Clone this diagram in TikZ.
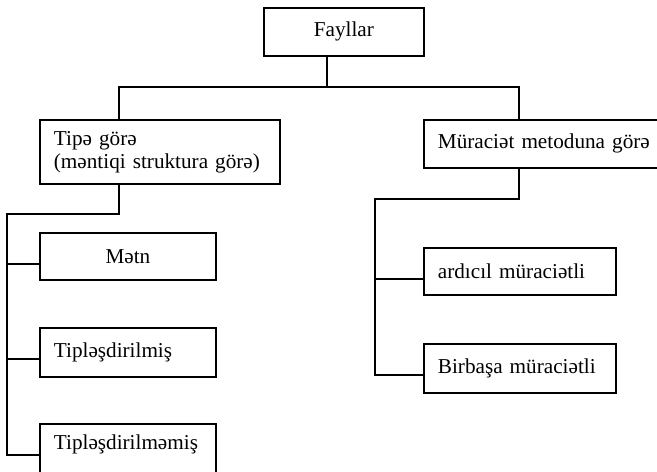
\documentclass[tikz,border=0pt]{standalone}
\usepackage{fontspec}
\setmainfont{Liberation Serif}
\usetikzlibrary{calc}

\begin{document}
\begin{tikzpicture}[
  x=0.5pt,y=-0.5pt,
  font=\fontsize{10.6}{11.5}\selectfont,
  line width=0.9pt,
  box/.style={draw=black,anchor=north west,inner xsep=7pt,inner ysep=0pt,align=left},
  wide/.style={box,text width=#1}]
  \useasboundingbox (0,0) rectangle (657,471);
  \clip (0,0) rectangle (657,471);
  % top level
  \node[box,align=center,minimum width=80pt,minimum height=24pt] (fay) at (263,7) {Fayllar};
  \node[wide=106pt,minimum height=32pt] (tip) at (39,119) {Tipə görə\\(məntiqi struktura görə)};
  \node[wide=120pt,minimum height=24pt] (mur) at (423,119) {Müraciət metoduna görə};
  \coordinate (ftap) at (327,87);
  \coordinate (ltap) at (119,87);
  \coordinate (rtap) at (519,87);
  \draw (ftap |- fay.south) -- (ftap);
  \draw (ltap |- tip.north) -- (ltap) -- (rtap) -- (rtap |- mur.north);
  % left branch
  \node[box,align=center,text width=74pt,minimum height=23.5pt] (m1) at (39,232) {Mətn};
  \node[wide=74pt,minimum height=24.5pt] (m2) at (39,327) {Tipləşdirilmiş};
  \node[wide=74pt,minimum height=28pt,text height=7.5pt,text depth=10pt] (m3) at (39,423) {Tipləşdirilməmiş};
  \coordinate (lbend) at (7,214);
  \foreach \n in {m1,m2,m3} \coordinate (\n t) at ([yshift=-16pt]\n.north west);
  \draw (ltap |- tip.south) |- (lbend) |- (m3t);
  \draw (m1t) -- (lbend |- m1t);
  \draw (m2t) -- (lbend |- m2t);
  % right branch
  \node[wide=82pt,minimum height=23.5pt] (r1) at (423,247) {ardıcıl müraciətli};
  \node[wide=82pt,minimum height=24.5pt] (r2) at (423,343) {Birbaşa müraciətli};
  \coordinate (rbend) at (375,199);
  \foreach \n in {r1,r2} \coordinate (\n t) at ([yshift=-16pt]\n.north west);
  \draw (rtap |- mur.south) |- (rbend) |- (r2t);
  \draw (r1t) -- (rbend |- r1t);
\end{tikzpicture}
\end{document}
